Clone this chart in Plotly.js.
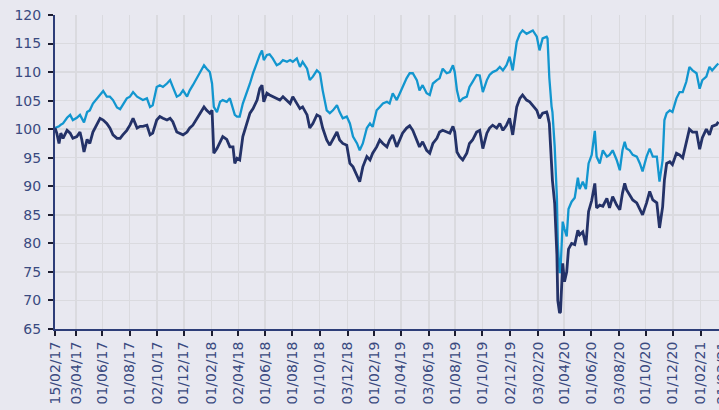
<!DOCTYPE html>
<html><head><meta charset="utf-8">
<script src="https://cdn.plot.ly/plotly-3.0.1.min.js"></script>
<style>html,body{margin:0;padding:0;background:#e8e8f0;overflow:hidden;width:719px;height:410px}</style>
</head><body><div id="chart" style="width:730px;height:410px"></div>
<script>
const dates = [
"2017-02-15","2017-02-19","2017-02-24","2017-02-28","2017-03-05","2017-03-14","2017-03-21","2017-03-27","2017-04-05","2017-04-12",
"2017-04-16","2017-04-21","2017-04-28","2017-05-04","2017-05-11","2017-05-20","2017-05-27","2017-06-03","2017-06-11","2017-06-18",
"2017-06-25","2017-07-04","2017-07-11","2017-07-17","2017-07-26","2017-08-02","2017-08-09","2017-08-18","2017-08-25","2017-08-31",
"2017-09-09","2017-09-16","2017-09-22","2017-10-01","2017-10-08","2017-10-15","2017-10-24","2017-10-31","2017-11-06","2017-11-15",
"2017-11-22","2017-11-29","2017-12-08","2017-12-14","2017-12-21","2017-12-30","2018-01-06","2018-01-15","2018-01-21","2018-01-28",
"2018-02-02","2018-02-06","2018-02-13","2018-02-20","2018-02-26","2018-03-07","2018-03-14","2018-03-21","2018-03-25","2018-03-30",
"2018-04-05","2018-04-12","2018-04-21","2018-04-28","2018-05-05","2018-05-14","2018-05-20","2018-05-25","2018-05-29","2018-06-05",
"2018-06-11","2018-06-18","2018-06-27","2018-07-04","2018-07-11","2018-07-20","2018-07-27","2018-08-02","2018-08-11","2018-08-18",
"2018-08-24","2018-09-03","2018-09-09","2018-09-16","2018-09-25","2018-10-02","2018-10-08","2018-10-17","2018-10-24","2018-10-31",
"2018-11-09","2018-11-15","2018-11-22","2018-12-01","2018-12-08","2018-12-15","2018-12-24","2018-12-30","2019-01-06","2019-01-15",
"2019-01-22","2019-01-28","2019-02-06","2019-02-13","2019-02-20","2019-03-01","2019-03-07","2019-03-14","2019-03-23","2019-03-30",
"2019-04-05","2019-04-14","2019-04-21","2019-04-28","2019-05-07","2019-05-13","2019-05-20","2019-05-29","2019-06-05","2019-06-12",
"2019-06-21","2019-06-27","2019-07-04","2019-07-13","2019-07-20","2019-07-27","2019-07-31","2019-08-05","2019-08-11","2019-08-18",
"2019-08-27","2019-09-02","2019-09-09","2019-09-18","2019-09-25","2019-10-02","2019-10-11","2019-10-17","2019-10-24","2019-11-02",
"2019-11-09","2019-11-16","2019-11-24","2019-12-01","2019-12-08","2019-12-17","2019-12-24","2019-12-30","2020-01-08","2020-01-15",
"2020-01-22","2020-01-31","2020-02-06","2020-02-13","2020-02-22","2020-02-24","2020-02-28","2020-03-04","2020-03-06","2020-03-11",
"2020-03-16","2020-03-18","2020-03-22","2020-03-24","2020-03-27","2020-03-29","2020-04-02","2020-04-07","2020-04-11","2020-04-18",
"2020-04-25","2020-05-02","2020-05-06","2020-05-13","2020-05-20","2020-05-26","2020-06-02","2020-06-09","2020-06-13","2020-06-20",
"2020-06-27","2020-07-06","2020-07-12","2020-07-19","2020-07-28","2020-08-04","2020-08-10","2020-08-15","2020-08-19","2020-08-26",
"2020-09-02","2020-09-11","2020-09-18","2020-09-24","2020-10-03","2020-10-10","2020-10-17","2020-10-26","2020-11-01","2020-11-08",
"2020-11-12","2020-11-17","2020-11-24","2020-11-30","2020-12-09","2020-12-16","2020-12-23","2020-12-31","2021-01-07","2021-01-14",
"2021-01-23","2021-01-30","2021-02-05","2021-02-14","2021-02-21","2021-02-27","2021-03-09","2021-03-13"
];
const lightSeries = [
100.2,100.3,100.5,100.8,101.0,102.0,102.5,101.6,102.0,102.5,
102.0,101.2,103.0,103.3,104.5,105.4,106.0,106.7,105.7,105.7,
105.1,103.8,103.5,104.2,105.4,105.7,106.5,105.7,105.4,105.1,
105.4,103.9,104.2,107.4,107.7,107.4,108.0,108.6,107.4,105.7,
106.0,106.8,105.7,106.8,107.7,108.9,109.8,111.2,110.6,110.0,
108.0,103.9,103.0,104.8,105.1,104.8,105.4,103.3,102.5,102.2,
102.2,104.5,106.3,108.0,109.8,111.8,113.0,113.8,112.1,113.0,
113.1,112.4,111.2,111.5,112.1,111.8,112.1,111.8,112.4,110.9,
111.8,110.6,108.6,109.2,110.3,109.8,106.8,103.3,102.8,103.3,
104.2,103.0,101.9,102.2,101.0,98.7,97.5,96.3,97.5,100.2,
101.0,100.4,103.3,103.9,104.5,104.8,104.5,106.3,105.1,106.3,
107.4,108.9,109.8,109.8,108.6,106.8,107.7,106.3,106.0,108.0,
108.6,108.9,110.6,109.8,110.0,111.2,110.0,106.8,104.8,105.4,
105.7,107.4,108.3,109.5,109.4,106.5,108.6,109.5,110.0,110.3,
110.9,110.3,111.2,112.7,110.3,115.3,116.7,117.3,116.7,117.0,
117.3,116.2,113.8,115.9,116.2,115.9,109.0,104.0,103.0,97.0,
88.0,80.0,74.8,75.1,80.0,83.8,82.5,81.2,86.0,87.3,
88.0,91.5,89.5,90.8,89.5,94.0,95.5,99.7,95.2,94.0,
96.3,95.2,95.5,96.3,94.6,92.8,96.3,97.8,96.6,96.3,
95.5,95.2,94.0,92.6,95.2,96.6,95.2,95.2,90.8,94.6,
101.6,102.8,103.3,103.0,105.4,106.5,106.5,108.3,110.9,110.3,
109.8,107.1,108.6,109.2,110.9,110.3,111.2,111.5
];
const darkSeries = [
100.2,99.3,97.5,99.3,98.4,99.8,99.3,98.4,98.7,99.5,
98.2,96.0,98.2,97.5,99.5,101.0,101.9,101.6,101.0,100.2,
99.0,98.4,98.4,99.0,99.8,100.7,101.9,100.2,100.5,100.5,
100.7,99.0,99.3,101.6,102.2,101.9,101.6,101.9,101.3,99.5,
99.3,99.0,99.5,100.2,100.7,101.9,102.8,103.9,103.3,102.8,
103.3,95.8,96.6,97.8,98.7,98.2,96.9,96.9,94.0,94.9,
94.6,98.7,101.0,102.8,103.6,105.1,107.1,107.7,104.8,106.3,
106.0,105.7,105.4,105.1,105.7,105.1,104.5,105.7,104.5,103.6,
103.9,102.5,100.2,101.0,102.5,102.2,100.2,98.1,97.2,98.1,
99.5,98.1,97.5,97.2,94.0,93.4,92.0,90.8,93.4,95.2,
94.6,95.8,96.9,98.1,97.5,96.9,98.1,99.0,96.9,98.1,
99.3,100.2,100.6,99.8,98.1,96.9,97.8,96.3,95.8,97.5,
98.4,99.5,99.8,99.5,99.3,100.5,99.5,96.0,95.2,94.6,
95.8,97.5,98.1,99.5,99.8,96.6,99.3,100.2,100.7,100.2,
101.0,99.8,100.7,101.9,99.0,103.9,105.4,106.0,105.1,104.8,
104.2,103.3,101.9,102.8,103.0,102.5,101.0,94.0,91.0,87.0,
78.0,70.0,67.8,68.0,75.0,76.5,73.3,75.0,79.0,80.0,
79.8,82.3,81.5,82.0,79.7,85.6,87.5,90.5,86.2,86.7,
86.5,87.9,86.2,88.2,86.7,85.9,88.8,90.5,89.4,88.5,
87.6,87.1,85.9,85.0,87.1,89.1,87.6,87.1,82.7,86.4,
91.1,94.0,94.3,93.8,95.8,95.5,95.0,98.0,100.0,99.5,
99.5,96.5,98.5,100.0,99.0,100.5,100.8,101.3
];
const tickDates = ["2017-02-15","2017-04-03","2017-06-01","2017-08-01","2017-10-02","2017-12-01","2018-02-01","2018-04-02","2018-06-01","2018-08-01","2018-10-01","2018-12-03","2019-02-01","2019-04-01","2019-06-03","2019-08-01","2019-10-01","2019-12-02","2020-02-03","2020-04-01","2020-06-01","2020-08-03","2020-10-01","2020-12-01","2021-02-01","2021-03-21"];
const tickLabels = ["15/02/17","03/04/17","01/06/17","01/08/17","02/10/17","01/12/17","01/02/18","02/04/18","01/06/18","01/08/18","01/10/18","03/12/18","01/02/19","01/04/19","03/06/19","01/08/19","01/10/19","02/12/19","03/02/20","01/04/20","01/06/20","03/08/20","01/10/20","01/12/20","01/02/21","21/03/21"];

const fontFam = "DejaVu Sans, sans-serif";
const axisCommon = {
  showgrid: true, gridcolor: "#dadadf", gridwidth: 1.5,
  showline: true, linecolor: "#2d3d78", linewidth: 2,
  ticks: "outside", ticklen: 5, tickwidth: 2, tickcolor: "#1c1c30",
  zeroline: false, automargin: false,
  tickfont: {family: fontFam, size: 14, color: "#3a4a80"}
};
const traces = [
  {x: dates, y: lightSeries, type: "scatter", mode: "lines", line: {color: "#1296cf", width: 2.3}, name: "A"},
  {x: dates, y: darkSeries, type: "scatter", mode: "lines", line: {color: "#243268", width: 2.8}, name: "B"}
];
const layout = {
  width: 730, height: 410,
  margin: {l: 55, r: 0, t: 15, b: 81},
  paper_bgcolor: "#e8e8f0", plot_bgcolor: "#e8e8f0",
  showlegend: false,
  xaxis: Object.assign({}, axisCommon, {
    type: "date", range: ["2017-02-15", "2021-04-08"],
    tickmode: "array", tickvals: tickDates, ticktext: tickLabels, tickangle: -90,
    tickfont: {family: fontFam, size: 14, color: "#3a4a80"}
  }),
  yaxis: Object.assign({}, axisCommon, {
    range: [65, 120], tick0: 65, dtick: 5, ticklabelstandoff: 4
  })
};
Plotly.newPlot("chart", traces, layout, {displayModeBar: false, staticPlot: true});
</script></body></html>
